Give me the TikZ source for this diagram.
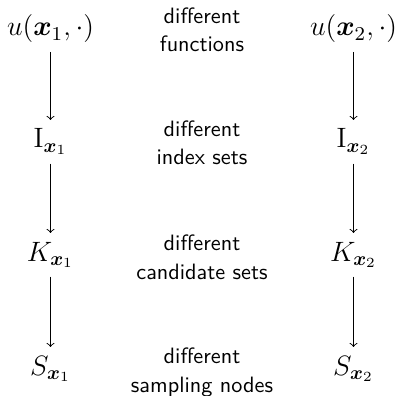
\RequirePackage{fix-cm}
\documentclass[tikz,border=0pt]{standalone}
\usepackage{bm}
\begin{document}
\begin{tikzpicture}[x=0.45pt,y=-0.45pt,
  mathnode/.style={anchor=base,font=\fontsize{12.6}{15}\selectfont,inner sep=3.8pt},
  midtext/.style={anchor=base,align=center,font=\fontsize{10}{13}\selectfont\sffamily},
  flow/.style={->,line width=0.4pt}]
\useasboundingbox (0,0) rectangle (396,396);
% left column
\node[mathnode] (u1) at (50.5,36) {$u(\bm{x}_1,\cdot)$};
\node[mathnode] (I1) at (50.5,148) {$\mathrm{I}_{\bm{x}_1}$};
\node[mathnode] (K1) at (50.5,261) {$K_{\bm{x}_1}$};
\node[mathnode] (S1) at (50.5,375) {$S_{\bm{x}_1}$};
% right column
\node[mathnode] (u2) at (353.5,36) {$u(\bm{x}_2,\cdot)$};
\node[mathnode] (I2) at (353.5,148) {$\mathrm{I}_{\bm{x}_2}$};
\node[mathnode] (K2) at (353.5,261) {$K_{\bm{x}_2}$};
\node[mathnode] (S2) at (353.5,375) {$S_{\bm{x}_2}$};
% middle labels (base = last line)
\node[midtext] (m1) at (202,52) {different\\functions};
\node[midtext] (m2) at (202,165) {different\\index sets};
\node[midtext] (m3) at (202,279) {different\\candidate sets};
\node[midtext] (m4) at (202,392) {different\\sampling nodes};
% arrows
\draw[flow] (u1) -- (I1);
\draw[flow] (I1) -- (K1);
\draw[flow] (K1) -- (S1);
\draw[flow] (u2) -- (I2);
\draw[flow] (I2) -- (K2);
\draw[flow] (K2) -- (S2);
\end{tikzpicture}
\end{document}
